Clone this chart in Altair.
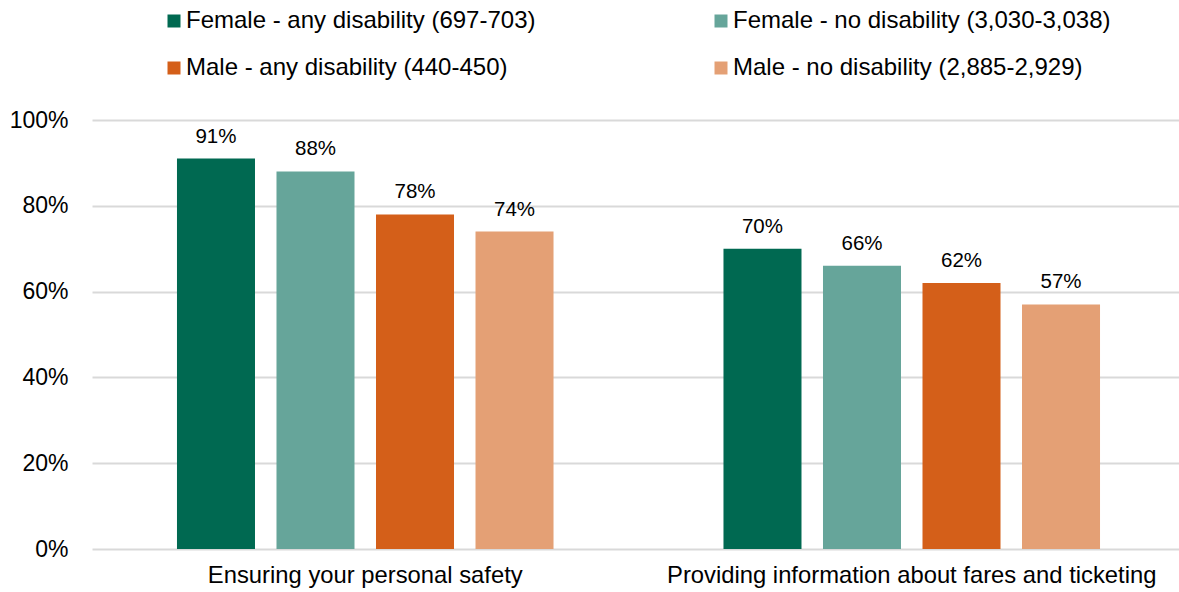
import altair as alt
import pandas as pd

categories = ["Ensuring your personal safety", "Providing information about fares and ticketing"]
series = ["Female - any disability (697-703)", "Female - no disability (3,030-3,038)",
          "Male - any disability (440-450)", "Male - no disability (2,885-2,929)"]
colors = ["#006951", "#66a59a", "#d45f19", "#e4a075"]
values = {
    series[0]: [91, 70],
    series[1]: [88, 66],
    series[2]: [78, 62],
    series[3]: [74, 57],
}

rows = []
for s in series:
    for c, v in zip(categories, values[s]):
        rows.append({"category": c, "series": s, "value": v / 100, "label": f"{v}%"})
df = pd.DataFrame(rows)

# legend is laid out column by column, so interleave the order for row-wise reading
legend_order = [series[0], series[2], series[1], series[3]]
legend_colors = [colors[0], colors[2], colors[1], colors[3]]

font = "Liberation Sans"

x = alt.X("category:N", sort=categories, title=None,
          scale=alt.Scale(paddingInner=0, paddingOuter=0, range=[2, 1095]),
          axis=alt.Axis(labelAngle=0, labelFontSize=23.8, labelFont=font, labelColor="#000000",
                        domain=False, ticks=False, labelPadding=14, labelLimit=800))
xo = alt.XOffset("series:N", sort=series,
                 scale=alt.Scale(paddingInner=0.216, paddingOuter=0.854))
y = alt.Y("value:Q", title=None,
          scale=alt.Scale(domain=[0, 1]),
          axis=alt.Axis(format=".0%", values=[0, 0.2, 0.4, 0.6, 0.8, 1.0], labelFontSize=23,
                        labelFont=font, labelColor="#000000", domain=False, ticks=False,
                        labelPadding=22, gridColor="#d9d9d9", gridWidth=2))

bars = alt.Chart(df).mark_bar().encode(
    x=x, xOffset=xo, y=y,
    color=alt.Color("series:N",
                    scale=alt.Scale(domain=legend_order, range=legend_colors),
                    legend=alt.Legend(title=None, orient="none", legendX=72, legendY=-111,
                                      columns=2, columnPadding=173, rowPadding=23,
                                      symbolType="square", symbolSize=169, symbolStrokeWidth=0,
                                      labelFontSize=24, labelFont=font, labelColor="#000000",
                                      labelLimit=600, symbolOffset=0, labelOffset=0)),
)

text = alt.Chart(df).mark_text(baseline="alphabetic", dy=-16, fontSize=20.5, font=font, color="#000000").encode(
    x=alt.X("category:N", sort=categories),
    xOffset=alt.XOffset("series:N", sort=series),
    y="value:Q", text="label:N",
)

chart = (bars + text).properties(
    width=1085, height=429,
    autosize=alt.AutoSizeParams(type="none"),
    padding={"left": 90, "top": 120, "right": 4, "bottom": 43},
).configure(background="#ffffff").configure_view(stroke=None)

chart.save("out.html", embed_options={"renderer": "svg", "actions": False})
